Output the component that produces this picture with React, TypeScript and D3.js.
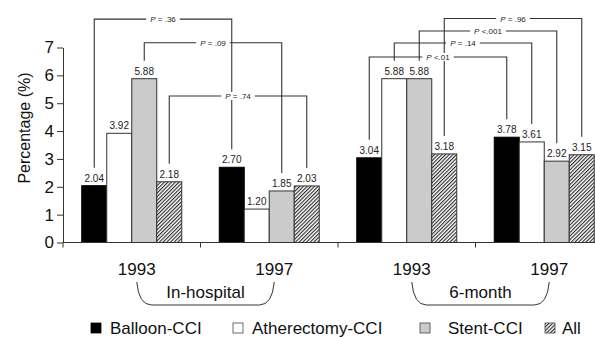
import { useEffect, useRef } from "react";
import * as d3 from "d3";

// groups along the x axis (two periods x two years)
const groupKeys = ["ih1993", "ih1997", "sm1993", "sm1997"];
const groupYears = ["1993", "1997", "1993", "1997"];
const periods = ["In-hospital", "6-month"];

const series = ["Balloon-CCI", "Atherectomy-CCI", "Stent-CCI", "All"];
const balloon = [2.04, 2.7, 3.04, 3.78];
const atherectomy = [3.92, 1.2, 5.88, 3.61];
const stent = [5.88, 1.85, 5.88, 2.92];
const allCci = [2.18, 2.03, 3.18, 3.15];

const yTicks = [0, 1, 2, 3, 4, 5, 6, 7];

// P-value brackets: series index, period index, level (in % units)
const pLabels = ["P = .36", "P = .09", "P = .74", "P <.01", "P = .14", "P <.001", "P = .96"];
const pSeries = [0, 2, 3, 0, 1, 2, 3];
const pPeriod = [0, 0, 0, 1, 1, 1, 1];
const pLevels = [8.02, 7.17, 5.26, 6.66, 7.16, 7.59, 8.04];

const FONT = "'Liberation Sans', Arial, Helvetica, sans-serif";

export default function App() {
  const svgRef = useRef<SVGSVGElement>(null);

  useEffect(() => {
    const width = 595;
    const height = 337;
    const svg = d3.select(svgRef.current).attr("width", width).attr("height", height);
    svg.selectAll("*").remove();

    const values = [balloon, atherectomy, stent, allCci];

    const x0 = d3.scaleBand().domain(groupKeys).range([63, 613]);
    const x1 = d3.scaleBand().domain(series).range([0, x0.bandwidth()]).paddingInner(0).paddingOuter(0.75);
    const y = d3.scaleLinear().domain([0, 7]).range([242.5, 47.5]);

    const defs = svg.append("defs");
    const pat = defs.append("pattern")
      .attr("id", "hatch")
      .attr("patternUnits", "userSpaceOnUse")
      .attr("width", 2.6)
      .attr("height", 6)
      .attr("patternTransform", "rotate(45)");
    pat.append("rect").attr("width", 2.6).attr("height", 6).attr("fill", "white");
    pat.append("line").attr("x1", 0.6).attr("x2", 0.6).attr("y1", 0).attr("y2", 6)
      .attr("stroke", "#111").attr("stroke-width", 1);

    const fills = ["#000", "#fff", "#cbcbcb", "url(#hatch)"];

    // bars
    series.forEach((s, si) => {
      groupKeys.forEach((g, gi) => {
        const v = values[si][gi];
        const bx = x0(g)! + x1(s)!;
        svg.append("rect")
          .attr("x", bx)
          .attr("y", y(v))
          .attr("width", x1.bandwidth())
          .attr("height", y(0) - y(v))
          .attr("fill", fills[si])
          .attr("stroke", si === 0 ? "#000" : "#333")
          .attr("stroke-width", 1);
        svg.append("text")
          .attr("x", bx + x1.bandwidth() / 2)
          .attr("y", y(v) - 4)
          .attr("text-anchor", "middle")
          .style("font-family", FONT)
          .style("font-size", "10px")
          .attr("fill", "#222")
          .text(v.toFixed(2));
      });
    });

    // y axis
    const yAxis = svg.append("g")
      .attr("transform", "translate(63,0)")
      .call(d3.axisLeft(y).tickValues(yTicks).tickSize(6).tickPadding(3).tickSizeOuter(0).tickFormat(d3.format("d")));
    yAxis.select(".domain").attr("stroke", "#333");
    yAxis.selectAll(".tick line").attr("stroke", "#333");
    yAxis.selectAll("text").style("font-family", FONT).style("font-size", "17px").attr("fill", "#111");
    svg.append("line").attr("x1", 63).attr("x2", 63).attr("y1", y(0)).attr("y2", y(0) + 5).attr("stroke", "#333");

    svg.append("text")
      .attr("transform", "rotate(-90)")
      .attr("x", -128)
      .attr("y", 24)
      .attr("text-anchor", "middle")
      .attr("dominant-baseline", "central")
      .style("font-family", FONT)
      .style("font-size", "16px")
      .attr("fill", "#111")
      .text("Percentage (%)");

    // x axis
    svg.append("line").attr("x1", 63).attr("x2", width).attr("y1", y(0)).attr("y2", y(0)).attr("stroke", "#333");
    groupKeys.slice(1).forEach((g) => {
      svg.append("line").attr("x1", x0(g)!).attr("x2", x0(g)!)
        .attr("y1", y(0)).attr("y2", y(0) + 5).attr("stroke", "#333");
    });
    groupKeys.forEach((g, gi) => {
      svg.append("text")
        .attr("x", x0(g)! + x0.bandwidth() / 2 + 5)
        .attr("y", 274.5)
        .attr("text-anchor", "middle")
        .style("font-family", FONT)
        .style("font-size", "17px")
        .attr("fill", "#111")
        .text(groupYears[gi]);
    });

    // period braces
    periods.forEach((p, pi) => {
      const xl = x0(groupKeys[pi * 2])! + x0.bandwidth() / 2 + 5;
      const xr = x0(groupKeys[pi * 2 + 1])! + x0.bandwidth() / 2 + 5;
      const top = 282;
      const bot = 305;
      svg.append("path")
        .attr("d", `M${xl},${top} Q${xl + 2},${bot} ${xl + 15},${bot} L${xr - 15},${bot} Q${xr - 2},${bot} ${xr},${top}`)
        .attr("fill", "none")
        .attr("stroke", "#333")
        .attr("stroke-width", 1);
      svg.append("text")
        .attr("x", (xl + xr) / 2)
        .attr("y", 292)
        .attr("text-anchor", "middle")
        .attr("dominant-baseline", "central")
        .style("font-family", FONT)
        .style("font-size", "17px")
        .attr("fill", "#111")
        .text(p);
    });

    // brackets: lines first, then labels with white backing
    const centers = pLabels.map((_, i) => {
      const s = series[pSeries[i]];
      const ga = groupKeys[pPeriod[i] * 2];
      const gb = groupKeys[pPeriod[i] * 2 + 1];
      const xa = x0(ga)! + x1(s)! + x1.bandwidth() / 2;
      const xb = x0(gb)! + x1(s)! + x1.bandwidth() / 2;
      const ya = y(values[pSeries[i]][pPeriod[i] * 2]) - 18;
      const yb = y(values[pSeries[i]][pPeriod[i] * 2 + 1]) - 18;
      return { xa, xb, ya, yb, yl: y(pLevels[i]) };
    });
    centers.forEach((c) => {
      svg.append("path")
        .attr("d", `M${c.xa},${c.ya} V${c.yl} H${c.xb} V${c.yb}`)
        .attr("fill", "none")
        .attr("stroke", "#333")
        .attr("stroke-width", 1.1);
    });
    centers.forEach((c, i) => {
      const bg = svg.append("rect").attr("fill", "white");
      const t = svg.append("text")
        .attr("x", (c.xa + c.xb) / 2)
        .attr("y", c.yl)
        .attr("text-anchor", "middle")
        .attr("dominant-baseline", "central")
        .style("font-family", FONT)
        .style("font-size", "8px")
        .attr("fill", "#222");
      const parts = pLabels[i].split("P");
      t.append("tspan").style("font-style", "italic").text("P");
      t.append("tspan").text(parts[1]);
      const w = (t.node() as SVGTextElement).getComputedTextLength();
      bg.attr("x", (c.xa + c.xb) / 2 - w / 2 - 4)
        .attr("y", c.yl - 4)
        .attr("width", w + 8)
        .attr("height", 8);
    });

    // legend
    const legSquares = [91, 233, 420, 545];
    const legText = [110, 252, 448, 562];
    series.forEach((s, si) => {
      svg.append("rect")
        .attr("x", legSquares[si])
        .attr("y", 323)
        .attr("width", 10)
        .attr("height", 10)
        .attr("fill", fills[si])
        .attr("stroke", si === 0 ? "#000" : "#444")
        .attr("stroke-width", 0.8);
      svg.append("text")
        .attr("x", legText[si])
        .attr("y", 333.5)
        .style("font-family", FONT)
        .style("font-size", "17px")
        .attr("fill", "#111")
        .text(s);
    });
  }, []);

  return (
    <svg ref={svgRef} style={{ position: "absolute", left: 0, top: 0, background: "white" }} />
  );
}
